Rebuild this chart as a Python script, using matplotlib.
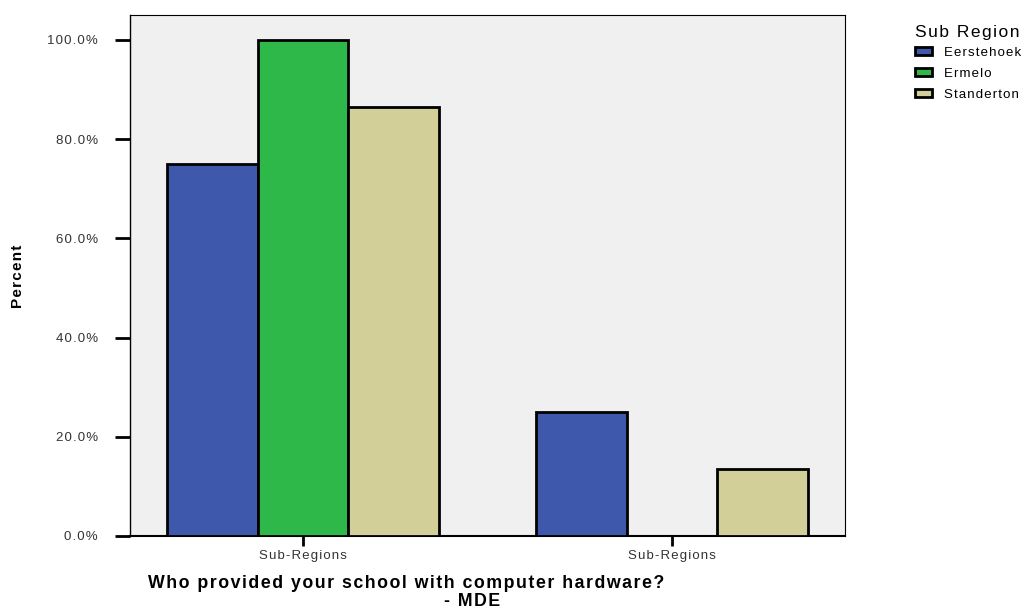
import matplotlib
matplotlib.use("Agg")
import matplotlib.pyplot as plt
import numpy as np

plt.rcParams['font.family'] = ['Liberation Sans', 'DejaVu Sans']

categories = ["Sub-Regions", "Sub-Regions"]
series_names = ["Eerstehoek", "Ermelo", "Standerton"]
eerstehoek = [75.0, 25.0]
ermelo = [100.0, 0.0]
standerton = [86.4, 13.6]
colors = ["#3e58ac", "#2fb84a", "#d3cf98"]
yticks = [0, 20, 40, 60, 80, 100]
ytick_labels = ["0.0%", "20.0%", "40.0%", "60.0%", "80.0%", "100.0%"]
y_title = "Percent"
x_title_1 = "Who provided your school with computer hardware?"
x_title_2 = "- MDE"
legend_title = "Sub Region"


def sp(s):
    """Widen letter spacing (SPSS-style tracking) with hair spaces."""
    return "\u200a".join(s)


W, H = 1027, 610
fig = plt.figure(figsize=(W / 100, H / 100), dpi=100)
ax = fig.add_axes([130 / W, 1 - 536 / H, (845 - 130) / W, (536 - 15) / H])
ax.set_facecolor("#f0f0f0")

x = np.arange(len(categories))
w = 0.245
for i, (vals, name, c) in enumerate(zip([eerstehoek, ermelo, standerton], series_names, colors)):
    ax.bar(x + (i - 1) * w, vals, width=w, color=c, edgecolor="black",
           linewidth=2, label=sp(name), zorder=3)

ax.set_xlim(-0.469, 1.469)
ax.set_ylim(0, 105)
ax.set_yticks(yticks)
ax.set_yticklabels([sp(t) for t in ytick_labels], fontsize=9.5, color="#333333")
ax.set_xticks(x)
ax.set_xticklabels([sp(c) for c in categories], fontsize=9.5, color="#333333")
ax.tick_params(axis='y', length=10.8, width=2, direction='out', pad=12.5)
ax.tick_params(axis='x', length=7.2, width=2, direction='out', pad=3)
for s in ax.spines.values():
    s.set_linewidth(0.8)
ax.spines['bottom'].set_linewidth(1.5)
ax.spines['left'].set_linewidth(1)

fig.text(18 / W, 1 - 276 / H, sp(y_title), rotation=90, fontsize=11,
         fontweight='bold', ha='center', va='center')
fig.text(406 / W, 1 - 584 / H, sp(x_title_1), fontsize=12.8,
         fontweight='bold', ha='center', va='center')
fig.text(472 / W, 1 - 602 / H, sp(x_title_2), fontsize=12.8,
         fontweight='bold', ha='center', va='center')

leg = fig.legend(loc='upper left', bbox_to_anchor=(908 / W, 1 - 18 / H), frameon=False,
                 title=sp(legend_title), fontsize=9.5, title_fontsize=12.5,
                 handlelength=1.29, handleheight=0.6, handletextpad=0.95,
                 labelspacing=0.68, borderpad=0, alignment='left')
leg._legend_box.sep = 5.2

fig.savefig("out.png", dpi=100)
